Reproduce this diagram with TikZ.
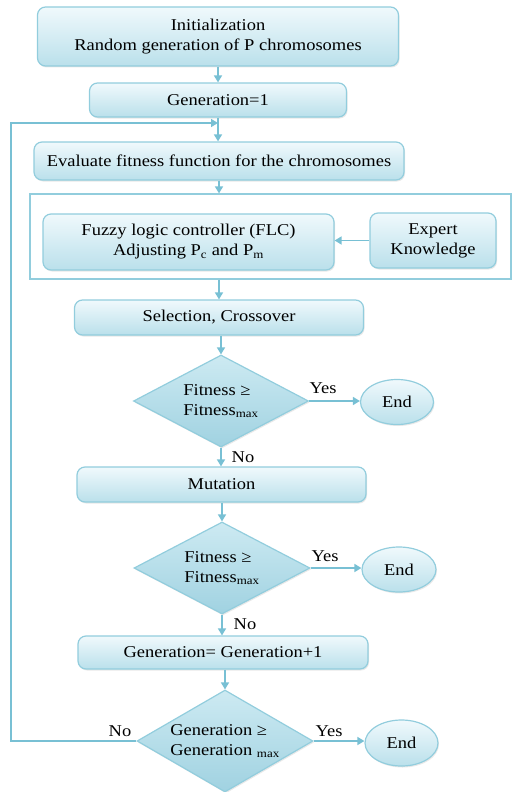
\documentclass[tikz,border=0pt]{standalone}
\usepackage{fontspec}
\setmainfont[FakeStretch=1.12]{Liberation Serif}
\usetikzlibrary{arrows.meta,shapes.geometric,shadows}
\definecolor{bord}{RGB}{146,205,221}
\definecolor{arr}{RGB}{120,192,212}
\definecolor{ftop}{RGB}{240,249,252}
\definecolor{fbot}{RGB}{186,224,235}
\definecolor{dtop}{RGB}{205,234,242}
\definecolor{dbot}{RGB}{160,210,225}
\tikzset{
 txt/.style={font=\fontsize{16.5}{20}\selectfont},
 shad/.style={drop shadow={opacity=0.18, shadow xshift=1pt, shadow yshift=-1.5pt}},
 procbox/.style={txt, shad, draw=bord, line width=1.2pt, rounded corners=8pt, top color=ftop, bottom color=fbot, align=center, inner sep=0pt},
 decbox/.style={txt, shad, diamond, draw=bord, line width=1.2pt, top color=dtop, bottom color=dbot, align=left, inner sep=-20pt},
 endbox/.style={txt, shad, ellipse, draw=bord, line width=1.2pt, top color=ftop, bottom color=fbot, inner sep=0pt},
 frame/.style={draw=bord, line width=1.2pt, rectangle, inner sep=0pt},
 conn/.style={draw=arr, line width=1.6pt, -{Triangle[width=8pt,length=7pt]}},
 lbl/.style={txt, inner sep=0pt}
}
\begin{document}
\begin{tikzpicture}[x=1pt,y=-1pt]
\useasboundingbox (0,0) rectangle (512,792);
\node[frame, minimum width=481, minimum height=85] (fr) at (270.5,236.5) {};
\node[procbox, minimum width=361, minimum height=59] (init) at (218,36.5) {Initialization\\Random generation of P chromosomes};
\node[procbox, minimum width=257, minimum height=34] (g1) at (218,100) {Generation=1};
\node[procbox, minimum width=370, minimum height=38] (eval) at (219,161) {Evaluate fitness function for the chromosomes};
\node[procbox, minimum width=291, minimum height=56] (flc) at (188.5,242) {Fuzzy logic controller (FLC)\\Adjusting P\textsubscript{c} and P\textsubscript{m}};
\node[procbox, minimum width=126, minimum height=55] (exp) at (433,240.5) {Expert\\Knowledge};
\node[procbox, minimum width=289, minimum height=35] (sel) at (219,317.5) {Selection, Crossover};
\node[decbox, minimum width=175, minimum height=92] (d1) at (221,401) {Fitness ≥\\Fitness\textsubscript{max}};
\node[endbox, minimum width=73, minimum height=45] (e1) at (397,402) {End};
\node[procbox, minimum width=289, minimum height=35] (mut) at (221.5,484.5) {Mutation};
\node[decbox, minimum width=176, minimum height=92] (d2) at (222,568) {Fitness ≥\\Fitness\textsubscript{max}};
\node[endbox, minimum width=74, minimum height=45] (e2) at (399,569.5) {End};
\node[procbox, minimum width=290, minimum height=33] (gp) at (223,652.5) {Generation= Generation+1};
\node[decbox, minimum width=176, minimum height=102] (d3) at (225,741) {Generation ≥\\Generation \textsubscript{max}};
\node[endbox, minimum width=73, minimum height=46] (e3) at (401.5,743) {End};
\coordinate (lc) at (11,741);
\coordinate (lt) at (11,123);
\coordinate (lp) at (218,123);
\draw[conn] (init.south) -- (init.south |- g1.north);
\draw[conn] (g1.south) -- (g1.south |- eval.north);
\draw[conn] (eval.south) -- (eval.south |- fr.north);
\draw[conn] (exp.west) -- (flc.east |- exp.west);
\draw[conn] (sel.north |- fr.south) -- (sel.north);
\draw[conn] (sel.south -| d1.north) -- (d1.north);
\draw[conn] (d1.east) -- (e1.west |- d1.east);
\draw[conn] (d1.south) -- (d1.south |- mut.north);
\draw[conn] (mut.south -| d2.north) -- (d2.north);
\draw[conn] (d2.east) -- (e2.west |- d2.east);
\draw[conn] (d2.south) -- (d2.south |- gp.north);
\draw[conn] (gp.south -| d3.north) -- (d3.north);
\draw[conn] (d3.east) -- (e3.west |- d3.east);
\draw[conn] (d3.west) -- (lc) -- (lt) -- (lp);
\node[lbl] (y1) at (323,388) {Yes};
\node[lbl] (n1) at (243,457) {No};
\node[lbl] (y2) at (325,556) {Yes};
\node[lbl] (n2) at (245,624) {No};
\node[lbl] (y3) at (329,731) {Yes};
\node[lbl] (n3) at (120,731) {No};
\end{tikzpicture}
\end{document}
